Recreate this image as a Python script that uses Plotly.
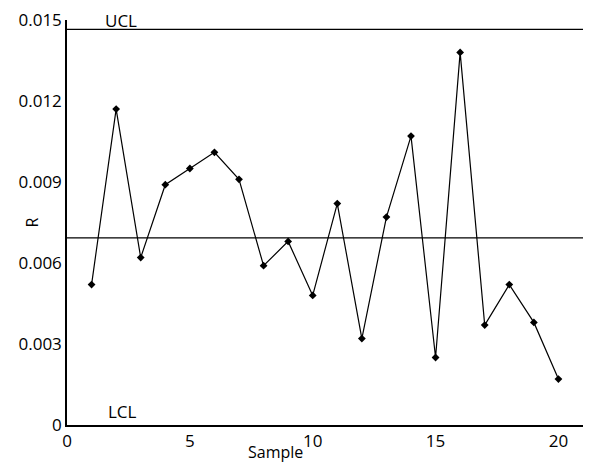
import plotly.graph_objects as go

# R chart data
samples = list(range(1, 21))
r_values = [0.0052, 0.0117, 0.0062, 0.0089, 0.0095, 0.0101, 0.0091, 0.0059, 0.0068, 0.0048,
            0.0082, 0.0032, 0.0077, 0.0107, 0.0025, 0.0138, 0.0037, 0.0052, 0.0038, 0.0017]
ucl = 0.01465
center = 0.00693
lcl = 0.0

y_ticks = [0, 0.003, 0.006, 0.009, 0.012, 0.015]
y_ticktext = ['0', '0.003', '0.006', '0.009', '0.012', '0.015']
x_ticks = [0, 5, 10, 15, 20]

fig = go.Figure()

# control limits
fig.add_trace(go.Scatter(x=[0, 21], y=[ucl, ucl], mode='lines',
                         line=dict(color='#000000', width=1.2), hoverinfo='skip'))
fig.add_trace(go.Scatter(x=[0, 21], y=[center, center], mode='lines',
                         line=dict(color='#000000', width=1.2), hoverinfo='skip'))

# sample ranges
fig.add_trace(go.Scatter(
    x=samples, y=r_values, mode='lines+markers',
    line=dict(color='#000000', width=1.2),
    marker=dict(symbol='diamond', size=6, color='#000000'),
    name='R'
))

fig.add_annotation(x=2.2, y=ucl, text='UCL', showarrow=False, yanchor='bottom',
                   xanchor='center', yshift=-5, font=dict(size=17, color='#000000'))
fig.add_annotation(x=2.25, y=lcl, text='LCL', showarrow=False, yanchor='bottom',
                   xanchor='center', yshift=0, font=dict(size=17, color='#000000'))

# axis titles placed like the original
fig.add_annotation(xref='paper', yref='paper', x=-0.068, y=0.5, text='R', textangle=-90,
                   xanchor='center', yanchor='middle',
                   showarrow=False, font=dict(size=16, color='#000000'))
fig.add_annotation(xref='paper', yref='paper', x=0.405, y=-0.067, text='Sample',
                   xanchor='center', yanchor='middle',
                   showarrow=False, font=dict(size=16, color='#000000'))

# page body has an 8px margin, so the figure is shrunk by that much
fig.update_layout(
    width=584, height=456,
    margin=dict(l=59, r=9, t=12, b=39),
    paper_bgcolor='white', plot_bgcolor='white',
    showlegend=False,
    font=dict(family='Open Sans', size=17, color='#000000'),
    xaxis=dict(range=[0, 21], tickvals=x_ticks, showgrid=False, zeroline=False, automargin=False,
               showline=True, linecolor='#000000', linewidth=1.5, ticks='',
               ticklabeloverflow='allow'),
    yaxis=dict(range=[0, 0.015], tickvals=y_ticks, ticktext=y_ticktext, showgrid=False,
               automargin=False, zeroline=False, showline=True, linecolor='#000000',
               linewidth=1.5, ticks='', ticklabeloverflow='allow'),
)

fig.write_html("out.html")
